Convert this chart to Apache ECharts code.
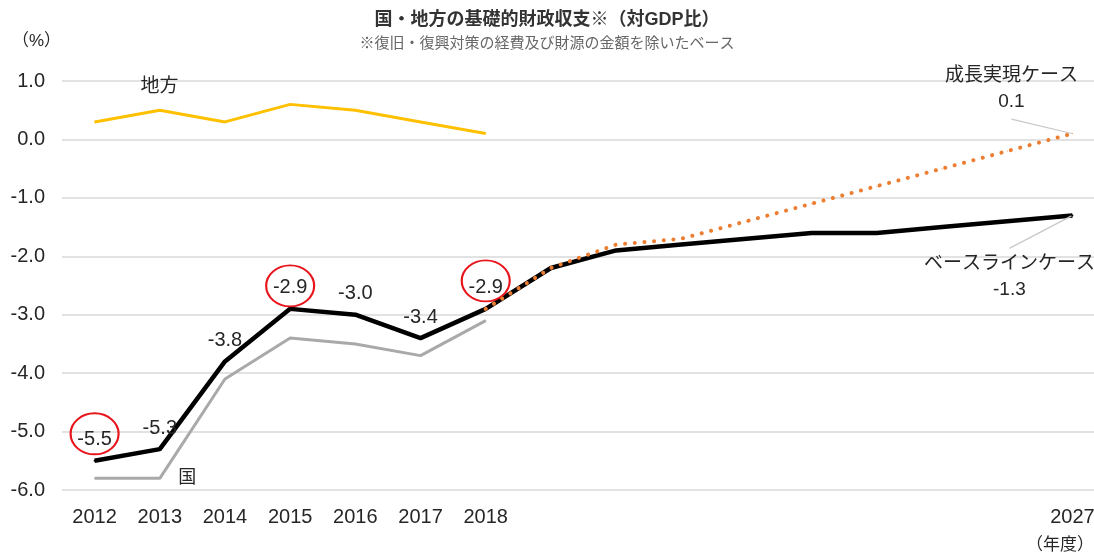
<!DOCTYPE html>
<html>
<head>
<meta charset="utf-8">
<script src="https://cdn.jsdelivr.net/npm/echarts@6/dist/echarts.min.js"></script>
<style>
html,body{margin:0;padding:0;background:#fff;}
#c{width:1094px;height:553px;}
</style>
</head>
<body>
<div id="c"></div>
<script>
// ---- data ----
const years = ['2012','2013','2014','2015','2016','2017','2018','2019','2020','2021','2022','2023','2024','2025','2026','2027'];
const shownYearIdx = [0,1,2,3,4,5,6,15];
const govLocal = [-5.5,-5.3,-3.8,-2.9,-3.0,-3.4,-2.9,-2.2,-1.9,-1.8,-1.7,-1.6,-1.6,-1.5,-1.4,-1.3];
const growthCase = [null,null,null,null,null,null,-2.9,-2.2,-1.8,-1.7,-1.4,-1.1,-0.8,-0.5,-0.2,0.1];
const national = [-5.8,-5.8,-4.1,-3.4,-3.5,-3.7,-3.1,null,null,null,null,null,null,null,null,null];
const local = [0.3,0.5,0.3,0.6,0.5,0.3,0.1,null,null,null,null,null,null,null,null,null];
const circledIdx = [0,3,6];
const circleOffsets = [-27,-23,-28];
const yTicks = {min:-6, max:1, interval:1};
const titleText = '国・地方の基礎的財政収支※（対GDP比）';
const subText = '※復旧・復興対策の経費及び財源の金額を除いたベース';

const FONT = '"Liberation Sans", "Noto Sans CJK JP", sans-serif';
const TXT = '#262626';

const chart = echarts.init(document.getElementById('c'), null, {renderer:'canvas'});

const govData = govLocal.map((v,i)=>{
  if (i === govLocal.length-1) {
    return {value:v, label:{show:true, position:'bottom', distance:5,
      formatter:'ベースラインケース\n{c}', fontSize:19, lineHeight:26, align:'center', color:TXT,
      padding:[2,70,0,70]},
      labelLine:{show:true, lineStyle:{color:'#c8c8c8', width:1.2}}};
  }
  return {value:v, label:{show: i<=6}};
});

const growthData = growthCase.map((v,i)=>{
  if (i === growthCase.length-1) {
    return {value:v, label:{show:true, position:'top', distance:5,
      formatter:'成長実現ケース\n{c}', fontSize:19, lineHeight:26, align:'center', color:TXT,
      padding:[0,70,4,70]},
      labelLine:{show:true, lineStyle:{color:'#c8c8c8', width:1.2}}};
  }
  return {value:v};
});

const localData = local.map((v,i)=> i===0 ? {value:v, label:{show:true, position:'top', formatter:'地方', offset:[65,-20], fontSize:19, color:TXT}} : {value:v});
const nationalData = national.map((v,i)=> i===1 ? {value:v, label:{show:true, position:'right', distance:18, formatter:'国', fontSize:18, color:TXT}} : {value:v});

const option = {
  animation:false,
  textStyle:{fontFamily:FONT},
  title:{
    text:titleText, subtext:subText, left:'center', top:6, itemGap:7,
    textStyle:{fontSize:18, fontWeight:'bold', color:'#333', fontFamily:FONT},
    subtextStyle:{fontSize:15, color:'#666', fontFamily:FONT}
  },
  graphic:[
    {type:'text', left:12, top:33, style:{text:'（%）', fontSize:17, fill:TXT, fontFamily:FONT}},
    {type:'text', right:0, top:537, style:{text:'（年度）', fontSize:17, fill:TXT, fontFamily:FONT}}
  ],
  grid:{left:62, top:81, width:1043, height:409, outerBoundsMode:'none', containLabel:false},
  xAxis:{
    type:'category', data:years, boundaryGap:true,
    axisLine:{show:false}, axisTick:{show:false},
    axisLabel:{interval:(idx)=>shownYearIdx.indexOf(idx)>=0, fontSize:20, color:TXT, margin:17, fontFamily:FONT},
    splitLine:{show:false}
  },
  yAxis:{
    type:'value', min:yTicks.min, max:yTicks.max, interval:yTicks.interval,
    axisLine:{show:false}, axisTick:{show:false},
    axisLabel:{formatter:v=>v.toFixed(1), fontSize:20, color:TXT, margin:17, fontFamily:FONT},
    splitLine:{lineStyle:{color:'#d9d9d9', width:1.6}}
  },
  series:[
    {name:'地方', type:'line', data:localData, symbol:'circle', symbolSize:1, showSymbol:true,
      lineStyle:{color:'#FFC000', width:3}, itemStyle:{color:'#FFC000'}, z:2,
      label:{show:false}, emphasis:{disabled:true}},
    {name:'国', type:'line', data:nationalData, symbol:'circle', symbolSize:1,
      lineStyle:{color:'#a9a9a9', width:3}, itemStyle:{color:'#a9a9a9'}, z:3,
      label:{show:false}, emphasis:{disabled:true}},
    {name:'国・地方', type:'line', data:govData, symbol:'circle', symbolSize:2,
      lineStyle:{color:'#000', width:4.5}, itemStyle:{color:'#000'}, z:4,
      label:{show:false, position:'top', distance:10, fontSize:20, color:TXT, formatter:p=>p.value.toFixed(1)},
      labelLine:{show:false},
      labelLayout:(p)=> p.dataIndex===govLocal.length-1 ? {dx:-63, dy:27} : {},
      emphasis:{disabled:true},
      markPoint:{
        silent:true, symbol:'circle', symbolSize:[48,41],
        itemStyle:{color:'rgba(0,0,0,0)', borderColor:'#e8141c', borderWidth:2},
        label:{show:false},
        data: circledIdx.map((i,k)=>({coord:[years[i], govLocal[i]], symbolOffset:[0, circleOffsets[k]]}))
      }},
    {name:'成長実現ケース', type:'line', data:growthData, symbol:'circle', symbolSize:1, connectNulls:false,
      lineStyle:{color:'#ED7D31', width:4, type:[0.1,9.6], cap:'round'}, itemStyle:{color:'#ED7D31'}, z:5,
      label:{show:false}, labelLine:{show:false},
      labelLayout:(p)=> p.dataIndex===growthCase.length-1 ? {dx:-61, dy:-9} : {},
      emphasis:{disabled:true}}
  ]
};
chart.setOption(option);
</script>
</body>
</html>
